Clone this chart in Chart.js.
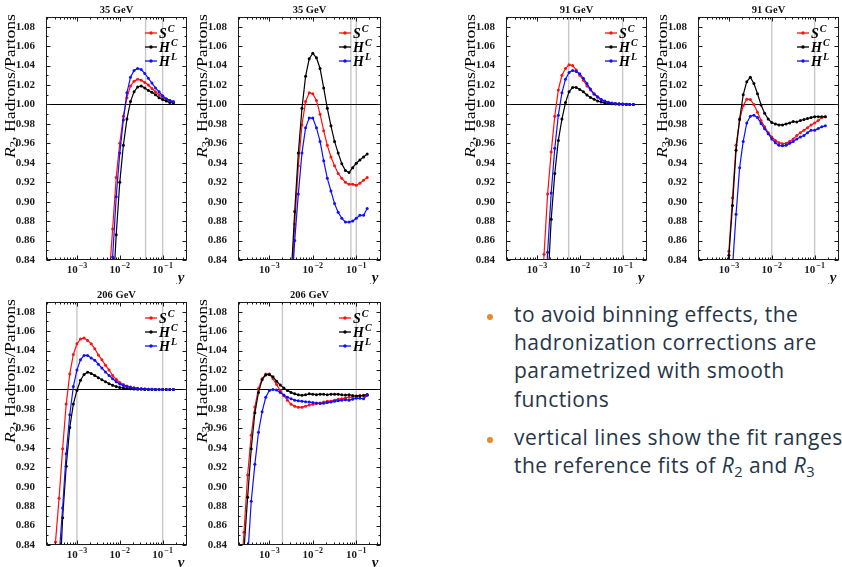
<!DOCTYPE html>
<html lang="en"><head><meta charset="utf-8"><title>Hadronization corrections R2 / R3</title>
<script src="https://cdn.jsdelivr.net/npm/chart.js@4.4.1/dist/chart.umd.min.js"></script>
<style>
html,body{margin:0;padding:0;background:#fff}
body{width:842px;height:567px;position:relative;overflow:hidden}
canvas{position:absolute;display:block}
.ln{position:absolute;left:514px;font-family:'Open Sans',sans-serif;font-size:21px;line-height:21px;letter-spacing:0.45px;color:#263649;white-space:nowrap}
.dot{position:absolute;left:487px;width:6px;height:6px;border-radius:50%;background:#e98a2c}
.ln sub{font-size:0.7em;vertical-align:-0.25em;line-height:0}
</style></head><body>
<div class="dot" style="top:314px"></div>
<div class="ln" style="top:304px">to avoid binning effects, the</div>
<div class="ln" style="top:332px">hadronization corrections are</div>
<div class="ln" style="top:360px">parametrized with smooth</div>
<div class="ln" style="top:389px">functions</div>
<div class="dot" style="top:437px"></div>
<div class="ln" style="top:427px">vertical lines show the fit ranges</div>
<div class="ln" style="top:455px">the reference fits of <i>R</i><sub>2</sub> and <i>R</i><sub>3</sub></div>
<script>
const N = null;
// jet resolution y (bin positions, log spaced 1/12 decade)
const Y_BINS = [2.154e-4,2.610e-4,3.162e-4,3.831e-4,4.642e-4,5.623e-4,6.813e-4,8.254e-4,
  1.000e-3,1.212e-3,1.468e-3,1.778e-3,2.154e-3,2.610e-3,3.162e-3,3.831e-3,4.642e-3,5.623e-3,6.813e-3,8.254e-3,
  0.01,0.01212,0.01468,0.01778,0.02154,0.02610,0.03162,0.03831,0.04642,0.05623,0.06813,0.08254,
  0.1,0.1212,0.1468,0.1778];
const X_TICKS = [0.001, 0.01, 0.1];
const X_TICK_LABELS = [['10', '\u22123'], ['10', '\u22122'], ['10', '\u22121']];
const Y_TICKS = [0.84,0.86,0.88,0.90,0.92,0.94,0.96,0.98,1.00,1.02,1.04,1.06,1.08];
const SERIES_BASE = ['S', 'H', 'H'];
const SERIES_SUP = ['C', 'C', 'L'];
const SERIES_COLORS = ['#ff1010', '#000000', '#1010ff'];
const ENERGIES = ['35 GeV', '91 GeV', '206 GeV'];

// fit ranges (vertical lines)
const FIT_35_R2 = [0.04, 0.1];
const FIT_35_R3 = [0.075, 0.1];
const FIT_91_R2 = [0.0055, 0.1];
const FIT_91_R3 = [0.01, 0.1];
const FIT_206_R2 = [0.001, 0.1];
const FIT_206_R3 = [0.002, 0.1];

// 35 GeV, R2
const R2_35_SC = [N,N,N,N,N,N,N,N,N,N,N,N,N,N,N,N,N,0.820,0.872,0.925,0.960,0.988,1.007,1.019,1.024,1.026,1.025,1.0225,1.020,1.0165,1.013,1.010,1.0075,1.005,1.004,1.002];
const R2_35_HC = [N,N,N,N,N,N,N,N,N,N,N,N,N,N,N,N,N,N,0.800,0.866,0.920,0.958,0.985,1.003,1.013,1.018,1.019,1.017,1.0145,1.0125,1.010,1.007,1.005,1.0035,1.002,1.0015];
const R2_35_HL = [N,N,N,N,N,N,N,N,N,N,N,N,N,N,N,N,N,0.800,0.843,0.905,0.950,0.984,1.012,1.028,1.035,1.037,1.036,1.032,1.027,1.022,1.017,1.013,1.009,1.006,1.004,1.003];
// 35 GeV, R3
const R3_35_SC = [N,N,N,N,N,N,N,N,N,N,N,N,N,N,0.800,0.877,0.937,0.979,1.003,1.012,1.011,1.004,0.990,0.973,0.958,0.946,0.937,0.929,0.924,0.920,0.918,0.918,0.917,0.919,0.922,0.925];
const R3_35_HC = [N,N,N,N,N,N,N,N,N,N,N,N,N,N,0.822,0.890,0.950,0.996,1.029,1.047,1.0527,1.048,1.037,1.017,0.996,0.978,0.962,0.950,0.939,0.932,0.930,0.935,0.9395,0.943,0.946,0.949];
const R3_35_HL = [N,N,N,N,N,N,N,N,N,N,N,N,N,N,0.800,0.860,0.908,0.950,0.976,0.986,0.986,0.976,0.962,0.942,0.924,0.911,0.898,0.889,0.883,0.879,0.879,0.880,0.883,0.886,0.886,0.893];
// 91 GeV, R2
const R2_91_SC = [N,N,N,N,N,N,N,N,N,0.775,0.846,0.908,0.951,0.988,1.015,1.030,1.037,1.041,1.040,1.0355,1.030,1.025,1.019,1.0148,1.0105,1.0075,1.005,1.003,1.002,1.0013,1.001,1.0007,1.0004,1.0003,1.0001,1.0];
const R2_91_HC = [N,N,N,N,N,N,N,N,N,N,N,0.810,0.882,0.929,0.963,0.985,1.002,1.013,1.0175,1.0175,1.0155,1.013,1.0098,1.0073,1.0053,1.0037,1.0025,1.0016,1.001,1.0007,1.0005,1.0003,1.0002,1.0001,1.0,1.0];
const R2_91_HL = [N,N,N,N,N,N,N,N,N,N,0.770,0.848,0.909,0.955,0.989,1.012,1.026,1.033,1.035,1.034,1.0315,1.027,1.0215,1.0158,1.011,1.008,1.0052,1.0035,1.0022,1.0015,1.001,1.0007,1.0004,1.0003,1.0001,1.0];
// 91 GeV, R3
const R3_91_SC = [N,N,N,N,N,N,N,0.770,0.849,0.904,0.958,0.984,0.999,1.0055,1.005,1.000,0.992,0.9835,0.977,0.971,0.9665,0.963,0.9607,0.9597,0.9600,0.9622,0.9645,0.968,0.971,0.9735,0.976,0.979,0.981,0.9835,0.9865,0.9875];
const R3_91_HC = [N,N,N,N,N,N,N,0.760,0.845,0.896,0.953,0.985,1.010,1.0235,1.028,1.0215,1.011,0.9995,0.991,0.985,0.9815,0.980,0.979,0.979,0.980,0.981,0.9825,0.982,0.9835,0.9845,0.9855,0.9865,0.9875,0.9875,0.9875,0.9875];
const R3_91_HL = [N,N,N,N,N,N,N,N,0.760,0.832,0.887,0.935,0.962,0.981,0.988,0.989,0.9865,0.9805,0.975,0.970,0.9645,0.9605,0.958,0.9575,0.958,0.960,0.962,0.9645,0.9665,0.968,0.971,0.9735,0.9735,0.9752,0.977,0.978];
// 206 GeV, R2
const R2_206_SC = [N,0.780,0.843,0.888,0.939,0.985,1.016,1.036,1.047,1.052,1.053,1.0505,1.047,1.042,1.0355,1.0305,1.025,1.020,1.0145,1.0105,1.0073,1.005,1.0035,1.0025,1.0017,1.0012,1.0008,1.0005,1.0003,1.0002,1.0001,1.0,1.0,1.0,1.0,1.0];
const R2_206_HC = [N,N,N,0.790,0.868,0.921,0.961,0.985,0.999,1.0095,1.0155,1.0178,1.0165,1.0145,1.012,1.010,1.008,1.006,1.0043,1.003,1.002,1.0014,1.001,1.0007,1.0005,1.0003,1.0002,1.0001,1.0,1.0,1.0,1.0,1.0,1.0,1.0,1.0];
const R2_206_HL = [N,N,N,0.828,0.878,0.934,0.974,1.003,1.020,1.0305,1.035,1.035,1.0325,1.030,1.026,1.022,1.018,1.0145,1.011,1.008,1.0057,1.004,1.003,1.0022,1.0015,1.001,1.0007,1.0005,1.0003,1.0002,1.0001,1.0,1.0,1.0,1.0,1.0];
// 206 GeV, R3
const R3_206_SC = [0.795,0.853,0.912,0.953,0.982,1.001,1.011,1.016,1.016,1.011,1.005,0.999,0.9935,0.989,0.9848,0.9828,0.9816,0.9818,0.9828,0.984,0.9847,0.9855,0.9862,0.987,0.988,0.988,0.989,0.990,0.9905,0.9913,0.992,0.9922,0.9928,0.9935,0.994,0.9948];
const R3_206_HC = [0.770,0.835,0.889,0.939,0.976,0.997,1.010,1.015,1.0155,1.013,1.0085,1.0045,1.0015,0.999,0.997,0.9955,0.9945,0.994,0.9945,0.9955,0.9952,0.9947,0.9952,0.995,0.9946,0.9952,0.995,0.9952,0.9945,0.9942,0.9946,0.9938,0.9934,0.9936,0.9938,0.9946];
const R3_206_HL = [N,0.760,0.826,0.885,0.923,0.956,0.977,0.992,0.999,1.000,0.9995,0.997,0.9942,0.992,0.9905,0.989,0.9883,0.988,0.9874,0.987,0.9866,0.986,0.9855,0.9858,0.9865,0.987,0.9878,0.9885,0.989,0.9895,0.989,0.990,0.991,0.991,0.9905,0.994];

const X_MIN = 1.9e-4, X_MAX = 0.37, Y_MIN = 0.84, Y_MAX = 1.09;
const SERIF = "'Liberation Serif','DejaVu Serif',serif";
const YTITLE_LEN = 144;

// layout (page pixels)
const PANELS = [
  {title: ENERGIES[0], obs: '2', fit: FIT_35_R2, series: [R2_35_SC, R2_35_HC, R2_35_HL], left: 0,   top: 0,   cw: 200, ch: 284, pl: 46,  pr: 187, pt: 17,  pb: 260},
  {title: ENERGIES[0], obs: '3', fit: FIT_35_R3, series: [R3_35_SC, R3_35_HC, R3_35_HL], left: 192, top: 0,   cw: 200, ch: 284, pl: 238, pr: 381, pt: 17,  pb: 260},
  {title: ENERGIES[1], obs: '2', fit: FIT_91_R2, series: [R2_91_SC, R2_91_HC, R2_91_HL], left: 460, top: 0,   cw: 200, ch: 284, pl: 506, pr: 647, pt: 17,  pb: 260},
  {title: ENERGIES[1], obs: '3', fit: FIT_91_R3, series: [R3_91_SC, R3_91_HC, R3_91_HL], left: 652, top: 0,   cw: 190, ch: 284, pl: 698, pr: 839, pt: 17,  pb: 260},
  {title: ENERGIES[2], obs: '2', fit: FIT_206_R2, series: [R2_206_SC, R2_206_HC, R2_206_HL], left: 0,   top: 285, cw: 200, ch: 282, pl: 46,  pr: 187, pt: 302, pb: 545},
  {title: ENERGIES[2], obs: '3', fit: FIT_206_R3, series: [R3_206_SC, R3_206_HC, R3_206_HL], left: 192, top: 285, cw: 200, ch: 282, pl: 238, pr: 381, pt: 302, pb: 545}
];

function deco(p) {
  return {
    id: 'deco',
    beforeDatasetsDraw(chart) {
      const {ctx, chartArea: a, scales: {x, y}} = chart;
      ctx.save();
      ctx.beginPath(); ctx.rect(a.left, a.top, a.right - a.left, a.bottom - a.top); ctx.clip();
      ctx.strokeStyle = '#c8c8c8'; ctx.lineWidth = 1.4;
      p.fit.forEach(v => {
        const px = x.getPixelForValue(v);
        ctx.beginPath(); ctx.moveTo(px, a.top); ctx.lineTo(px, a.bottom); ctx.stroke();
      });
      ctx.strokeStyle = '#000'; ctx.lineWidth = 1;
      const py = Math.round(y.getPixelForValue(1.0)) + 0.5;
      ctx.beginPath(); ctx.moveTo(a.left, py); ctx.lineTo(a.right, py); ctx.stroke();
      ctx.restore();
    },
    afterDraw(chart) {
      const {ctx, chartArea: a, scales: {x, y}} = chart;
      ctx.save();
      const L = Math.round(a.left) + 0.5, R = Math.round(a.right) - 0.5;
      const T = Math.round(a.top) + 0.5, B = Math.round(a.bottom) - 0.5;
      ctx.strokeStyle = '#1a1a1a'; ctx.lineWidth = 1;
      ctx.strokeRect(L, T, R - L, B - T);
      ctx.beginPath();
      Y_TICKS.forEach((v, i) => {
        const py = Math.round(y.getPixelForValue(v)) + 0.5;
        ctx.moveTo(L, py); ctx.lineTo(L + 4, py); ctx.moveTo(R, py); ctx.lineTo(R - 4, py);
        if (i < Y_TICKS.length - 1) {
          const pm = Math.round(y.getPixelForValue((v + Y_TICKS[i + 1]) / 2)) + 0.5;
          ctx.moveTo(L, pm); ctx.lineTo(L + 2, pm); ctx.moveTo(R, pm); ctx.lineTo(R - 2, pm);
        }
      });
      for (let e = -4; e <= 0; e++) {
        for (let k = 1; k <= 9; k++) {
          const v = k * Math.pow(10, e);
          if (v < x.min || v > x.max) continue;
          const px = Math.round(x.getPixelForValue(v)) + 0.5;
          const len = k === 1 ? 4 : 2;
          ctx.moveTo(px, B); ctx.lineTo(px, B - len); ctx.moveTo(px, T); ctx.lineTo(px, T + len);
        }
      }
      ctx.stroke();

      // x tick labels: base with raised exponent, placed by the log scale
      ctx.fillStyle = '#1a1a1a'; ctx.textBaseline = 'alphabetic'; ctx.textAlign = 'left';
      X_TICKS.forEach((v, i) => {
        const [base, ex] = X_TICK_LABELS[i];
        ctx.font = 'bold 11px ' + SERIF; const wb = ctx.measureText(base).width;
        ctx.font = 'bold 8px ' + SERIF; const we = ctx.measureText(ex).width;
        const px = x.getPixelForValue(v);
        const x0 = px - (wb + we + 1) / 2;
        ctx.font = 'bold 11px ' + SERIF; ctx.fillText(base, x0, a.bottom + 13);
        ctx.font = 'bold 8px ' + SERIF; ctx.fillText(ex, x0 + wb + 1, a.bottom + 8);
      });

      // legend
      ctx.textAlign = 'left'; ctx.textBaseline = 'middle';
      for (let i = 0; i < 3; i++) {
        const yy = a.top + 16 + 14 * i;
        const x0 = a.right - 42, x1 = a.right - 30;
        ctx.strokeStyle = SERIES_COLORS[i]; ctx.fillStyle = SERIES_COLORS[i]; ctx.lineWidth = 1.3;
        ctx.beginPath(); ctx.moveTo(x0, yy); ctx.lineTo(x1, yy); ctx.stroke();
        ctx.beginPath(); ctx.arc((x0 + x1) / 2, yy, 1.7, 0, Math.PI * 2); ctx.fill();
        ctx.fillStyle = '#000';
        ctx.font = 'bold italic 14px ' + SERIF;
        ctx.fillText(SERIES_BASE[i], x1 + 2, yy + 1);
        const w = ctx.measureText(SERIES_BASE[i]).width;
        ctx.font = 'bold italic 10px ' + SERIF;
        ctx.fillText(SERIES_SUP[i], x1 + 3 + w, yy - 4);
      }

      // panel title
      ctx.fillStyle = '#111';
      ctx.textAlign = 'center';
      ctx.font = 'bold 10.5px ' + SERIF;
      ctx.fillText(p.title, (a.left + a.right) / 2, a.top - 7);

      // x-axis variable
      ctx.font = 'bold italic 15px ' + SERIF;
      ctx.fillText('y', a.right - 6, a.bottom + 18);

      // y-axis title, rotated, ending near the top of the frame
      const parts = [
        {t: 'R', f: 'italic 14px ' + SERIF, dy: 0},
        {t: p.obs, f: '10px ' + SERIF, dy: 3},
        {t: ', Hadrons/Partons', f: '14px ' + SERIF, dy: 0}
      ];
      let total = 0;
      parts.forEach(q => { ctx.font = q.f; q.w = ctx.measureText(q.t).width; total += q.w; });
      ctx.translate(a.left - 35, a.top - 3);
      ctx.rotate(-Math.PI / 2);
      ctx.scale(YTITLE_LEN / total, 1);
      ctx.textAlign = 'left'; ctx.textBaseline = 'middle'; ctx.fillStyle = '#000';
      let cx = -total;
      parts.forEach(q => { ctx.font = q.f; ctx.fillText(q.t, cx, q.dy); cx += q.w; });
      ctx.restore();
    }
  };
}

PANELS.forEach(p => {
  const cv = document.createElement('canvas');
  cv.width = p.cw; cv.height = p.ch;
  cv.style.left = p.left + 'px'; cv.style.top = p.top + 'px';
  cv.style.width = p.cw + 'px'; cv.style.height = p.ch + 'px';
  document.body.appendChild(cv);
  const order = [2, 1, 0];
  new Chart(cv, {
    type: 'line',
    data: {
      datasets: p.series.map((arr, i) => ({
        label: SERIES_BASE[i] + SERIES_SUP[i],
        data: Y_BINS.map((xv, j) => ({x: xv, y: arr[j]})),
        borderColor: SERIES_COLORS[i], backgroundColor: SERIES_COLORS[i],
        pointBackgroundColor: SERIES_COLORS[i], pointBorderWidth: 0,
        borderWidth: 1.2, pointRadius: 1.5, pointHoverRadius: 0,
        tension: 0, fill: false, spanGaps: false, order: order[i]
      }))
    },
    options: {
      responsive: false, animation: false, devicePixelRatio: 1,
      events: [],
      layout: {padding: {left: 0, top: p.pt - p.top, right: p.left + p.cw - p.pr, bottom: 0}},
      plugins: {legend: {display: false}, tooltip: {enabled: false}, title: {display: false}},
      scales: {
        x: {
          type: 'logarithmic', min: X_MIN, max: X_MAX,
          grid: {display: false}, border: {display: false},
          afterFit: s => { s.height = p.top + p.ch - p.pb; },
          afterBuildTicks: s => { s.ticks = X_TICKS.map(v => ({value: v})); },
          ticks: {display: false}
        },
        y: {
          type: 'linear', min: Y_MIN, max: Y_MAX,
          grid: {display: false}, border: {display: false},
          afterFit: s => { s.width = p.pl - p.left; },
          afterBuildTicks: s => { s.ticks = Y_TICKS.map(v => ({value: v})); },
          ticks: {
            padding: 3, color: '#1a1a1a',
            font: {family: SERIF, size: 11, weight: 'bold'},
            callback: v => Number(v).toFixed(2)
          }
        }
      }
    },
    plugins: [deco(p)]
  });
});
</script>
</body></html>
